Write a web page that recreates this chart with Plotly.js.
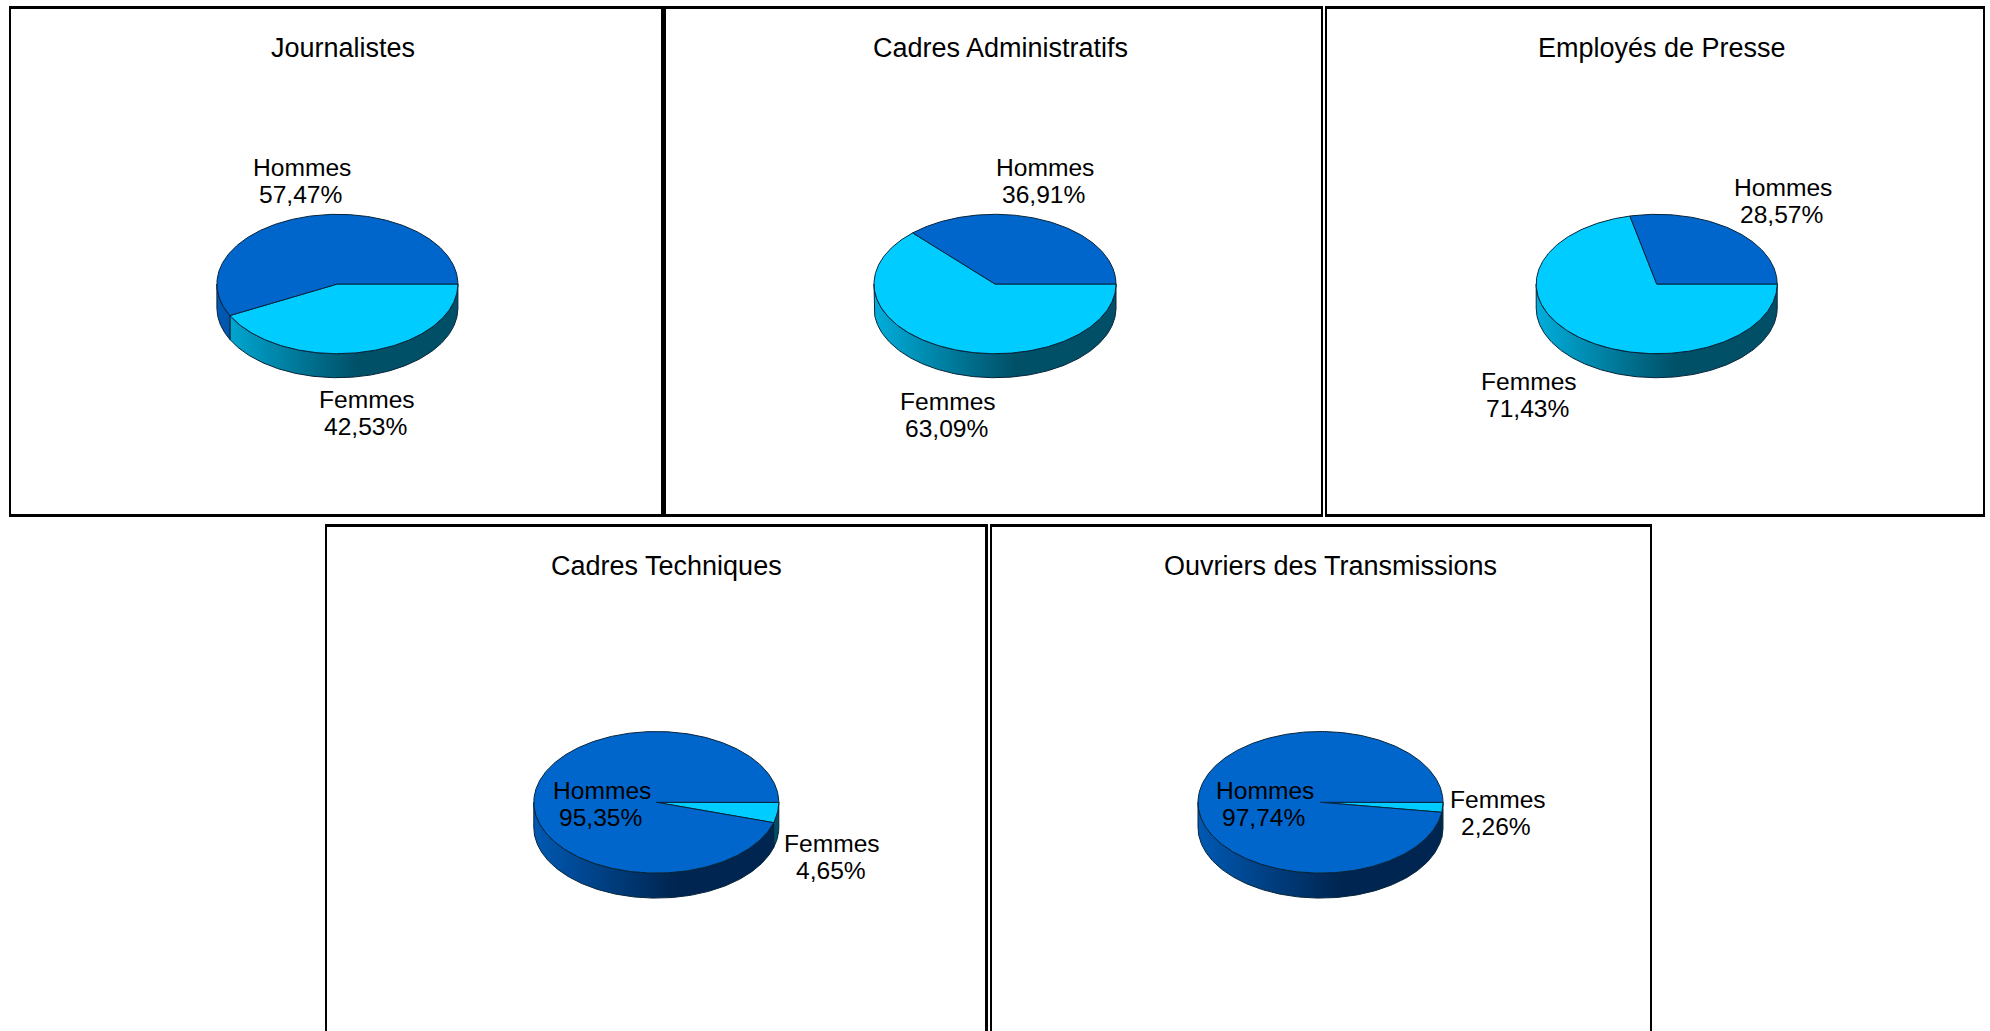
<!DOCTYPE html>
<html>
<head>
<meta charset="utf-8">
<script src="https://cdn.plot.ly/plotly-3.0.1.min.js"></script>
<style>html,body{margin:0;padding:0;background:#fff;overflow:hidden}#chart{width:1990px;height:1031px}</style>
</head>
<body>
<div id="chart"></div>
<script>
// ---- chart values ----
const titles = ["Journalistes", "Cadres Administratifs", "Employés de Presse", "Cadres Techniques", "Ouvriers des Transmissions"];
const femmes = [42.53, 63.09, 71.43, 4.65, 2.26];
const hommes = [57.47, 36.91, 28.57, 95.35, 97.74];
const seriesNames = ["Femmes", "Hommes"];
const fmt = v => v.toFixed(2).replace(".", ",") + "%";

// ---- layout of the panels, in page pixels ----
const W = 1990, H = 1031;
const boxes = [[11.2, 661.2, 8.9, 514], [666.2, 1320.5, 8.9, 514], [1327.2, 1982.8, 8.9, 514], [327.2, 985.4, 526.6, 1031], [992, 1649.8, 526.6, 1031]];
const centres = [[337.4, 284], [995, 284], [1656.7, 284], [656.3, 802.3], [1320.5, 802.3]];
const radii = [[120.5, 69.7, 24], [121, 69.7, 24], [120.5, 69.7, 24], [122.5, 70.8, 25], [122.5, 70.8, 25]];
const titleAt = [[342.6, 48], [1000.6, 48], [1662, 48], [666.5, 566], [1330.6, 566]];
const hommesLabel = [[-35, -102.5], [50, -103], [126, -83], [-54, 2], [-56, 1.5]];
const femmesLabel = [[29.5, 129], [-47, 131], [-127.7, 111], [176, 55], [177, 10.5]];

// ---- styles ----
const topColours = ["#00CCFF", "#0066CC"];
const wallScales = [
  [[0, "#00AEDB"], [0.58, "#005068"], [1, "#004F66"]],
  [[0, "#0059B3"], [0.58, "#002550"], [1, "#002550"]]
];
const edge = "#06243A";
const font = "Liberation Sans, Arial, sans-serif";

const traces = [], annotations = [], layout = {
  width: W, height: H, margin: {l: 0, r: 0, t: 0, b: 0, pad: 0},
  paper_bgcolor: "#fff", plot_bgcolor: "#fff", showlegend: false, hovermode: false
};

function pt(rx, ry, pct, dy) {
  const a = pct / 100 * 2 * Math.PI;
  return [rx * Math.cos(a), ry * Math.sin(a) + dy];
}
function arc(rx, ry, from, to, dy) {
  const n = Math.max(2, Math.ceil(Math.abs(to - from) / 0.25));
  const out = [];
  for (let i = 0; i <= n; i++) out.push(pt(rx, ry, from + (to - from) * i / n, dy));
  return out;
}

titles.forEach((title, p) => {
  const id = p === 0 ? "" : String(p + 1);
  const xa = "x" + id, ya = "y" + id;
  const [l, r, t, b] = boxes[p];
  const [cx, cy] = centres[p];
  const [rx, ry, depth] = radii[p];
  const bottomRow = b >= H;
  layout["xaxis" + id] = {
    domain: [l / W, r / W], range: [l - cx, r - cx], anchor: ya,
    side: "top", showline: true, mirror: bottomRow ? false : true, linecolor: "#000", linewidth: 2.5,
    showticklabels: false, ticks: "", showgrid: false, zeroline: false, fixedrange: true
  };
  layout["yaxis" + id] = {
    domain: [(H - b) / H, (H - t) / H], range: [b - cy, t - cy], anchor: xa,
    showline: true, mirror: true, linecolor: "#000", linewidth: 2.5,
    showticklabels: false, ticks: "", showgrid: false, zeroline: false, fixedrange: true
  };

  const slices = [[0, femmes[p]], [femmes[p], femmes[p] + hommes[p]]];

  // side walls: only the front half of the disc shows
  slices.forEach((s, k) => {
    const from = Math.max(s[0], 0), to = Math.min(s[1], 50);
    if (to <= from) return;
    const poly = arc(rx, ry, from, to, 0).concat(arc(rx, ry, to, from, depth));
    poly.push(poly[0]);
    traces.push({
      type: "scatter", mode: "lines", xaxis: xa, yaxis: ya, hoverinfo: "skip",
      name: seriesNames[k] + " (side)",
      x: poly.map(q => q[0]), y: poly.map(q => q[1]),
      line: {color: edge, width: 1}, fill: "toself",
      fillgradient: {type: "horizontal", start: -rx, stop: rx, colorscale: wallScales[k]}
    });
  });

  // top faces
  slices.forEach((s, k) => {
    const poly = [[0, 0]].concat(arc(rx, ry, s[0], s[1], 0));
    poly.push([0, 0]);
    traces.push({
      type: "scatter", mode: "lines", xaxis: xa, yaxis: ya, hoverinfo: "skip",
      name: seriesNames[k],
      x: poly.map(q => q[0]), y: poly.map(q => q[1]),
      line: {color: edge, width: 1}, fill: "toself", fillcolor: topColours[k]
    });
  });

  const text = (x, y, s, size) => annotations.push({
    xref: xa, yref: ya, x, y, text: s, showarrow: false, xanchor: "center", yanchor: "middle",
    font: {family: font, size, color: "#000"}
  });
  text(titleAt[p][0] - cx, titleAt[p][1] - cy, title, 27);
  const gap = 13.5, pctShift = -1.5;
  text(hommesLabel[p][0], hommesLabel[p][1] - gap, seriesNames[1], 24.6);
  text(hommesLabel[p][0] + pctShift, hommesLabel[p][1] + gap, fmt(hommes[p]), 24.6);
  text(femmesLabel[p][0], femmesLabel[p][1] - gap, seriesNames[0], 24.6);
  text(femmesLabel[p][0] + pctShift, femmesLabel[p][1] + gap, fmt(femmes[p]), 24.6);
});

layout.annotations = annotations;
Plotly.newPlot("chart", traces, layout, {displayModeBar: false, staticPlot: true});
</script>
</body>
</html>
